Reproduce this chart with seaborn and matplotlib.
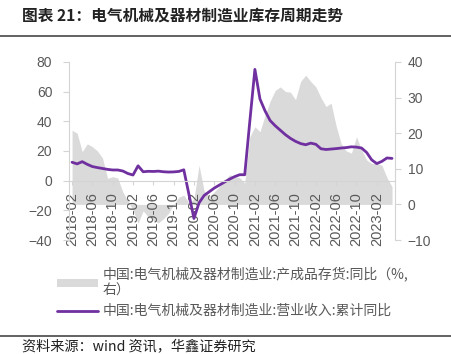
import pandas as pd
import seaborn as sns
import matplotlib.pyplot as plt
from matplotlib.patches import Patch
from matplotlib.lines import Line2D

# monthly categories 2018-02 .. 2023-05
months = pd.period_range("2018-02", "2023-05", freq="M").strftime("%Y-%m").tolist()
tick_labels = months[::4]

# 营业收入:累计同比 (left axis, %)
revenue_yoy = [12.4, 11.3, 12.8, 11.0, 9.5, 8.8, 8.2, 7.6, 7.2, 7.2,
               6.5, 4.8, 3.8, 10.0, 6.0, 6.3, 6.2, 6.4, 6.0, 5.8,
               5.9, 6.2, 7.3, -9.0, -25.5, -15.0, -10.0, -7.5, -5.0, -3.0,
               -1.0, 1.0, 2.7, 4.0, 4.0, 40.0, 75.0, 55.0, 47.0, 40.5,
               37.0, 34.0, 31.0, 28.5, 26.5, 25.0, 24.2, 25.3, 24.5, 21.5,
               21.0, 21.3, 21.6, 22.0, 22.3, 22.8, 22.6, 22.0, 19.0, 14.0,
               11.5, 13.0, 15.3, 15.0]

# 产成品存货:同比 (right axis, %)
inventory_yoy = [20.8, 20.0, 14.8, 17.0, 16.2, 15.0, 13.0, 7.3, 7.8, 7.4,
                 3.5, 1.0, -1.6, -5.3, -1.8, -3.5, -4.5, -5.2, -4.0, -2.5,
                 0.0, 2.0, 2.6, 0.5, 1.5, 11.0, 3.8, 2.2, 3.5, 5.0,
                 6.5, 8.3, 7.8, 7.5, 6.0, 19.0, 21.8, 20.4, 25.0, 29.0,
                 32.0, 33.0, 31.7, 31.5, 29.4, 34.5, 36.3, 34.5, 33.0, 30.0,
                 27.5, 28.4, 22.0, 17.0, 15.0, 14.4, 19.0, 15.3, 12.5, 11.5,
                 11.5, 11.0, 7.5, 5.0]

df = pd.DataFrame({"pos": range(len(months)), "month": months,
                   "revenue": revenue_yoy, "inventory": inventory_yoy})

sns.set_style("white")
plt.rcParams["font.family"] = ["Liberation Sans", "Noto Sans CJK SC", "DejaVu Sans"]

purple = "#7030A0"
fill_gray = "#DADADA"
axis_gray = "#D4D4D4"
text_gray = "#595959"
cjk = ["Noto Sans CJK SC", "DejaVu Sans"]

fig = plt.figure(figsize=(4.51, 3.54), dpi=100)
ax = fig.add_axes([0.153, 0.322, 0.723, 0.503])
ax2 = ax.twinx()

# inventory area on the right axis
ax2.fill_between(df["pos"], df["inventory"], 0, color=fill_gray, linewidth=0)
ax2.set_ylim(-10, 40)
ax2.set_yticks(range(-10, 41, 10))

# revenue line on the left axis, drawn above the area
ax.set_zorder(ax2.get_zorder() + 1)
ax.patch.set_visible(False)
sns.lineplot(data=df, x="pos", y="revenue", ax=ax, color=purple, linewidth=2.0)
ax.set_ylim(-40, 80)
ax.set_yticks(range(-40, 81, 20))
ax.set_xlim(-0.6, len(months) - 0.4)
ax.set_xlabel("")
ax.set_ylabel("")

for s in ["top", "right"]:
    ax.spines[s].set_visible(False)
ax.spines["bottom"].set_position(("data", 0))
ax.spines["bottom"].set_color(axis_gray)
ax.spines["left"].set_color(axis_gray)
for s in ["top", "left", "bottom"]:
    ax2.spines[s].set_visible(False)
ax2.spines["right"].set_color(axis_gray)

ax.tick_params(axis="y", direction="out", length=4, width=0.8, color=axis_gray,
               labelcolor=text_gray, labelsize=10, pad=8, left=True)
ax.tick_params(axis="x", direction="out", length=3, width=0.8, color=axis_gray,
               labelcolor=text_gray, labelsize=10.5, pad=5, bottom=True,
               labelrotation=90)
ax2.tick_params(axis="y", direction="out", length=4, width=0.8, color=axis_gray,
                labelcolor=text_gray, labelsize=10, pad=5, right=True)

ax.set_xticks(df["pos"][::4])
ax.set_xticklabels(tick_labels)
for lab in ax.get_xticklabels():
    lab.set_rotation(90)
    lab.set_va("top")
    lab.set_ha("center")

# title, rules and source
fig.text(0.049, 0.955, "图表 21：电气机械及器材制造业库存周期走势", fontsize=11.3,
         fontweight="bold", color="#222222", va="center", family=cjk)
fig.add_artist(Line2D([0, 1], [1 - 36 / 354] * 2, color="#555555", linewidth=1.3))
fig.add_artist(Line2D([0, 1], [1 - 336 / 354] * 2, color="#555555", linewidth=1.3))
fig.text(0.049, 1 - 347 / 354, "资料来源：wind 资讯，华鑫证券研究", fontsize=10.2,
         color="#222222", va="center", family=cjk)

handles = [Patch(facecolor=fill_gray, edgecolor="none"),
           Line2D([0], [0], color=purple, linewidth=2)]
labels = ["中国:电气机械及器材制造业:产成品存货:同比（%,\n右）",
          "中国:电气机械及器材制造业:营业收入:累计同比"]
fig.legend(handles, labels, loc="upper left", bbox_to_anchor=(0.11, 1 - 260 / 354),
           frameon=False, handlelength=3.0, handleheight=0.5,
           handletextpad=0.3, labelspacing=0.45, borderpad=0, labelcolor=text_gray,
           prop={"family": cjk, "size": 10})

plt.savefig("out.png", dpi=100)
